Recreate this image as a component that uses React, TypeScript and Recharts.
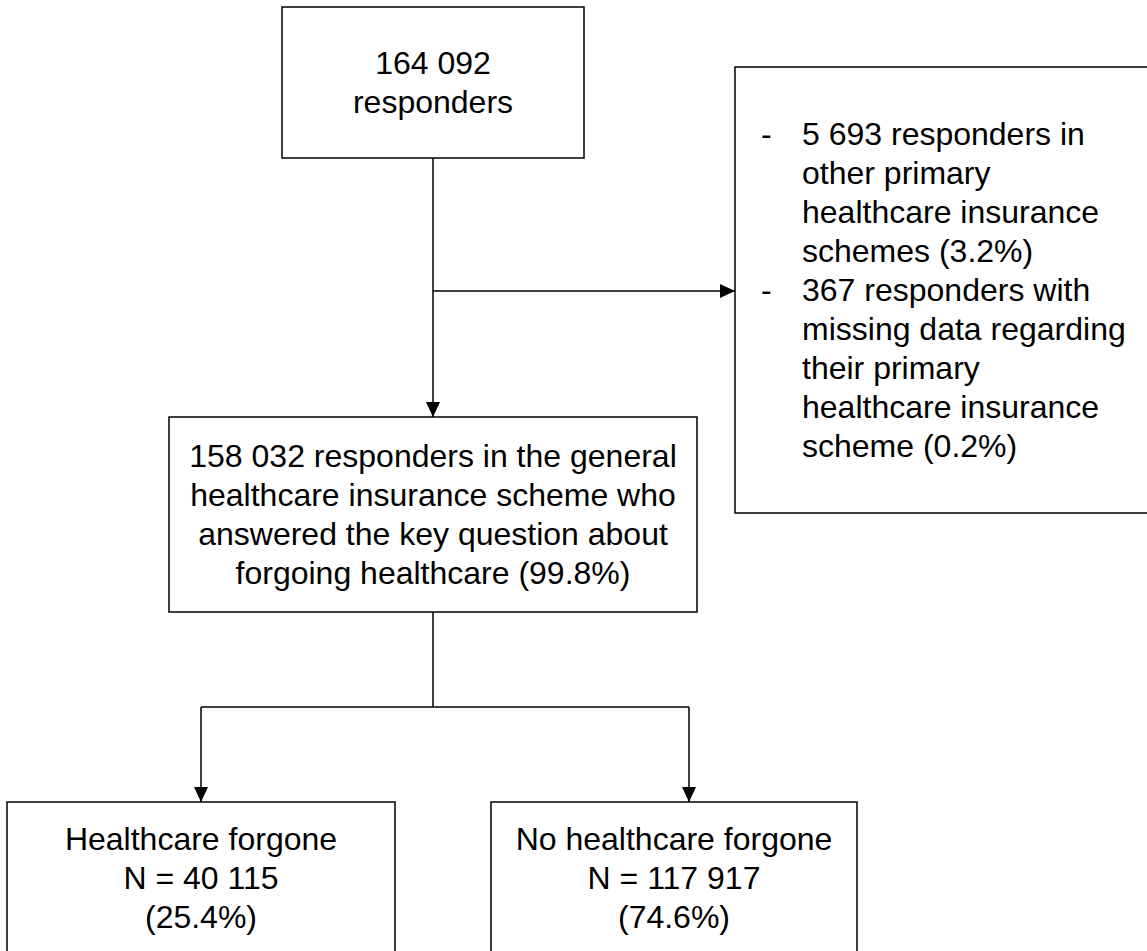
import { ReferenceArea, ReferenceLine, Scatter, ScatterChart, XAxis, YAxis } from "recharts";

// flowchart text
const totalLines = ["164 092", "responders"];
const excludedLines = [
  "5 693 responders in",
  "other primary",
  "healthcare insurance",
  "schemes (3.2%)",
  "367 responders with",
  "missing data regarding",
  "their primary",
  "healthcare insurance",
  "scheme (0.2%)",
];
const excludedBullets = [0, 4];
const includedLines = [
  "158 032 responders in the general",
  "healthcare insurance scheme who",
  "answered the key question about",
  "forgoing healthcare (99.8%)",
];
const forgoneLines = ["Healthcare forgone", "N = 40 115", "(25.4%)"];
const notForgoneLines = ["No healthcare forgone", "N = 117 917", "(74.6%)"];

// layout, in the chart's own 0..W / 0..H units
const W = 1147;
const H = 951;
const boxLayout = [
  { x1: 282, x2: 584, y1: 7, y2: 158 },
  { x1: 735, x2: 1152, y1: 67, y2: 513 },
  { x1: 169, x2: 697, y1: 417, y2: 612 },
  { x1: 7, x2: 395, y1: 802, y2: 953 },
  { x1: 491, x2: 857, y1: 802, y2: 953 },
];
const links = [
  [{ x: 433, y: 158 }, { x: 433, y: 417 }],
  [{ x: 433, y: 291 }, { x: 735, y: 291 }],
  [{ x: 433, y: 612 }, { x: 433, y: 707 }],
  [{ x: 201, y: 707 }, { x: 689, y: 707 }],
  [{ x: 201, y: 707 }, { x: 201, y: 802 }],
  [{ x: 689, y: 707 }, { x: 689, y: 802 }],
];
const arrowTips = [
  { x: 433, y: 417, dir: "down" },
  { x: 735, y: 291, dir: "right" },
  { x: 201, y: 802, dir: "down" },
  { x: 689, y: 802, dir: "down" },
];

const boxes = [
  { lines: totalLines, bullets: null },
  { lines: excludedLines, bullets: excludedBullets },
  { lines: includedLines, bullets: null },
  { lines: forgoneLines, bullets: null },
  { lines: notForgoneLines, bullets: null },
].map((b, i) => ({ ...b, ...boxLayout[i] }));

const FONT = "'Liberation Sans', Arial, sans-serif";
const LINE_H = 39;

function BoxText({ viewBox, lines, bullets }: any) {
  const { x, y, width, height } = viewBox;
  const top = y + height / 2 - ((lines.length - 1) * LINE_H) / 2;
  return (
    <g>
      {lines.map((line: string, i: number) => {
        const ly = top + i * LINE_H;
        if (bullets) {
          return (
            <g key={i}>
              {bullets.includes(i) && (
                <text x={x + 26} y={ly} dominantBaseline="central" fontFamily={FONT} fontSize={32} fill="#000">
                  -
                </text>
              )}
              <text x={x + 67} y={ly} dominantBaseline="central" fontFamily={FONT} fontSize={32} fill="#000">
                {line}
              </text>
            </g>
          );
        }
        return (
          <text
            key={i}
            x={x + width / 2}
            y={ly}
            textAnchor="middle"
            dominantBaseline="central"
            fontFamily={FONT}
            fontSize={32}
            fill="#000"
          >
            {line}
          </text>
        );
      })}
    </g>
  );
}

function ArrowHead({ cx, cy, payload }: any) {
  const pts =
    payload.dir === "right"
      ? `${cx - 15},${cy - 7} ${cx - 15},${cy + 7} ${cx},${cy}`
      : `${cx - 7},${cy - 15} ${cx + 7},${cy - 15} ${cx},${cy}`;
  return <polygon points={pts} fill="#000" />;
}

export default function App() {
  return (
    <div style={{ position: "absolute", left: 0, top: 0, background: "#fff" }}>
      <ScatterChart width={W} height={H} margin={{ top: 0, right: 0, bottom: 0, left: 0 }}>
        <XAxis type="number" dataKey="x" domain={[0, W]} hide />
        <YAxis type="number" dataKey="y" domain={[0, H]} reversed hide />
        {links.map((seg, i) => (
          <ReferenceLine key={`l${i}`} segment={seg} stroke="#000" strokeWidth={1.5} ifOverflow="visible" />
        ))}
        {boxes.map((b, i) => (
          <ReferenceArea
            key={`b${i}`}
            x1={b.x1}
            x2={b.x2}
            y1={b.y1}
            y2={b.y2}
            fill="#fff"
            fillOpacity={1}
            stroke="#000"
            strokeWidth={1.5}
            ifOverflow="visible"
            label={(props: any) => <BoxText {...props} lines={b.lines} bullets={b.bullets} />}
          />
        ))}
        <Scatter data={arrowTips} shape={<ArrowHead />} isAnimationActive={false} />
      </ScatterChart>
    </div>
  );
}
